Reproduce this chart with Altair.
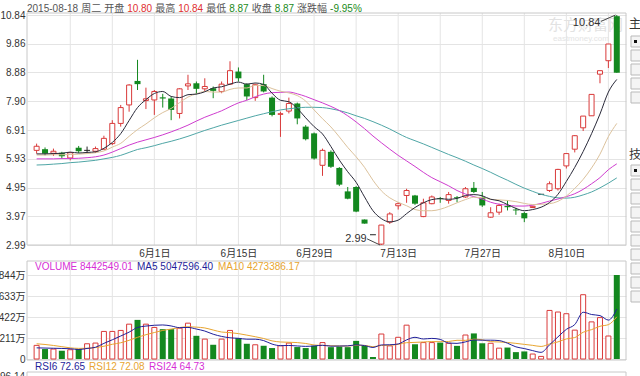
import altair as alt
import pandas as pd

FONT = "Liberation Sans, Noto Sans CJK SC, sans-serif"
RED = "#d93a3a"
GREEN = "#13881f"
FLAT = "#222222"
GRID = "#e4e4e4"
FRAME = "#c8c8c8"
LABEL = "#333333"
MA5C, MA10C, MA20C, MA30C = "#2a2a3a", "#dcc29c", "#cf3ccf", "#4fa6a6"
VMA5C, VMA10C, VOLC = "#1f1f9a", "#e8a530", "#d62fd6"

# ---------------- data ----------------
dates = [
    "2015-05-12", "2015-05-13", "2015-05-14", "2015-05-15",
    "2015-05-18", "2015-05-19", "2015-05-20", "2015-05-21", "2015-05-22",
    "2015-05-25", "2015-05-26", "2015-05-27", "2015-05-28", "2015-05-29",
    "2015-06-01", "2015-06-02", "2015-06-03", "2015-06-04", "2015-06-05",
    "2015-06-08", "2015-06-09", "2015-06-10", "2015-06-11", "2015-06-12",
    "2015-06-15", "2015-06-16", "2015-06-17", "2015-06-18", "2015-06-19",
    "2015-06-23", "2015-06-24", "2015-06-25", "2015-06-26",
    "2015-06-29", "2015-06-30", "2015-07-01", "2015-07-02", "2015-07-03",
    "2015-07-06", "2015-07-07", "2015-07-08", "2015-07-09", "2015-07-10",
    "2015-07-13", "2015-07-14", "2015-07-15", "2015-07-16", "2015-07-17",
    "2015-07-20", "2015-07-21", "2015-07-22", "2015-07-23", "2015-07-24",
    "2015-07-27", "2015-07-28", "2015-07-29", "2015-07-30", "2015-07-31",
    "2015-08-03", "2015-08-04", "2015-08-05", "2015-08-06", "2015-08-07",
    "2015-08-10", "2015-08-11", "2015-08-12", "2015-08-13", "2015-08-14",
    "2015-08-17", "2015-08-18",
]
opens = [6.22, 6.26, 6.12, 6.14, 5.96, 6.31, 6.22, 6.19, 6.26, 6.45,
         7.14, 7.77, 8.59, 7.92, 7.94, 8.03, 7.99, 7.48, 8.42, 8.51,
         8.32, 8.34, 8.23, 8.48, 8.91, 8.48, 8.02, 8.48, 8.02, 7.45,
         7.56, 7.82, 7.03, 6.80, 5.71, 6.17, 5.62, 4.82, 4.97, 3.86,
         3.34, 3.02, 3.77, 4.33, 4.68, 4.68, 3.96, 4.40, 4.59, 4.51,
         4.62, 4.63, 4.94, 4.63, 3.94, 4.11, 4.32, 4.20, 4.08, 4.27,
         4.72, 4.85, 4.91, 5.69, 6.26, 6.99, 7.40, 8.82, 9.28, 10.80]
highs = [6.45, 6.32, 6.28, 6.17, 6.16, 6.37, 6.35, 6.35, 6.72, 7.25,
         7.77, 8.48, 9.31, 8.36, 8.28, 8.15, 8.06, 8.34, 8.80, 8.57,
         8.68, 8.40, 8.57, 9.26, 9.05, 8.51, 8.50, 8.80, 8.06, 7.54,
         8.02, 7.85, 7.08, 6.83, 6.28, 6.22, 5.65, 4.97, 5.00, 3.86,
         3.34, 3.68, 4.11, 4.45, 4.91, 4.70, 4.57, 4.68, 4.63, 4.80,
         4.66, 4.97, 5.14, 4.80, 4.28, 4.40, 4.51, 4.26, 4.12, 4.33,
         4.72, 5.16, 5.59, 6.13, 6.74, 7.39, 8.13, 8.94, 9.85, 10.84]
lows = [6.11, 6.05, 6.03, 5.93, 5.88, 6.13, 6.12, 6.13, 6.24, 6.40,
        7.03, 7.54, 8.28, 7.63, 7.43, 7.68, 7.25, 7.31, 8.28, 8.13,
        8.23, 8.00, 8.17, 8.46, 8.57, 7.94, 7.91, 8.20, 7.38, 6.68,
        7.48, 7.11, 6.56, 5.90, 5.35, 5.62, 5.00, 4.55, 4.11, 3.72,
        3.34, 2.99, 3.71, 4.20, 4.43, 4.36, 3.94, 4.38, 4.43, 4.40,
        4.45, 4.60, 4.76, 4.29, 3.92, 4.02, 4.17, 4.02, 3.77, 4.25,
        4.72, 4.80, 4.85, 5.60, 6.15, 6.88, 7.40, 8.51, 9.03, 8.87]
closes = [6.36, 6.11, 6.19, 6.02, 6.14, 6.19, 6.22, 6.28, 6.63, 7.14,
          7.68, 8.45, 8.48, 7.98, 8.23, 7.99, 7.60, 8.32, 8.49, 8.32,
          8.40, 8.25, 8.48, 8.94, 8.68, 8.06, 8.46, 8.23, 7.43, 7.47,
          7.82, 7.31, 6.60, 5.94, 6.22, 5.66, 5.05, 4.57, 4.13, 3.72,
          3.34, 3.67, 4.05, 4.40, 4.85, 4.40, 4.43, 4.63, 4.56, 4.71,
          4.59, 4.91, 4.80, 4.34, 4.09, 4.34, 4.28, 4.17, 3.90, 4.31,
          4.72, 5.08, 5.57, 6.11, 6.72, 7.39, 8.13, 8.94, 9.85, 8.87]
# volume in 万 shares
volumes = [137, 100, 100, 83, 93, 100, 153, 160, 277, 277,
           287, 350, 393, 350, 317, 300, 300, 310, 360, 233,
           200, 143, 200, 287, 210, 153, 143, 133, 110, 133,
           160, 120, 110, 133, 165, 119, 125, 119, 182, 132,
           20, 251, 132, 218, 340, 148, 165, 165, 165, 158,
           132, 241, 257, 158, 158, 109, 115, 69, 76, 50,
           26, 488, 472, 455, 290, 646, 373, 416, 231, 844]
ma5 = [6.10, 6.10, 6.11, 6.12, 6.16, 6.13, 6.15, 6.17, 6.29, 6.49,
       6.79, 7.24, 7.68, 7.95, 8.16, 8.23, 8.06, 8.02, 8.12, 8.14,
       8.22, 8.35, 8.39, 8.48, 8.55, 8.48, 8.52, 8.47, 8.17, 7.93,
       7.88, 7.65, 7.33, 7.03, 6.78, 6.35, 5.89, 5.49, 5.13, 4.63,
       4.16, 3.89, 3.78, 3.84, 4.06, 4.27, 4.43, 4.54, 4.57, 4.55,
       4.58, 4.68, 4.71, 4.67, 4.55, 4.50, 4.37, 4.24, 4.16, 4.20,
       4.28, 4.44, 4.72, 5.16, 5.64, 6.18, 6.79, 7.46, 8.21, 8.64]
ma10 = [6.06, 6.06, 6.07, 6.07, 6.08, 6.09, 6.11, 6.14, 6.20, 6.33,
        6.46, 6.70, 6.93, 7.12, 7.33, 7.51, 7.65, 7.85, 8.04, 8.15,
        8.23, 8.21, 8.21, 8.30, 8.35, 8.35, 8.44, 8.43, 8.33, 8.24,
        8.18, 8.09, 7.90, 7.60, 7.30, 7.02, 6.68, 6.32, 6.00, 5.64,
        5.20, 4.84, 4.60, 4.45, 4.33, 4.20, 4.16, 4.16, 4.21, 4.31,
        4.43, 4.54, 4.62, 4.61, 4.55, 4.53, 4.51, 4.47, 4.41, 4.37,
        4.38, 4.40, 4.48, 4.66, 4.92, 5.23, 5.62, 6.09, 6.69, 7.14]
ma20 = [5.93, 5.93, 5.93, 5.94, 5.94, 5.95, 5.97, 6.00, 6.06, 6.16,
        6.28, 6.40, 6.50, 6.58, 6.66, 6.75, 6.85, 6.96, 7.08, 7.22,
        7.35, 7.46, 7.57, 7.71, 7.84, 7.93, 8.05, 8.14, 8.19, 8.20,
        8.21, 8.15, 8.06, 7.95, 7.84, 7.72, 7.58, 7.40, 7.19, 6.96,
        6.71, 6.48, 6.26, 6.05, 5.86, 5.67, 5.47, 5.29, 5.15, 5.01,
        4.85, 4.73, 4.64, 4.56, 4.45, 4.38, 4.35, 4.32, 4.32, 4.35,
        4.41, 4.49, 4.56, 4.64, 4.74, 4.89, 5.08, 5.29, 5.56, 5.76]
ma30 = [5.72, 5.73, 5.75, 5.77, 5.80, 5.82, 5.85, 5.88, 5.93, 5.98,
        6.05, 6.15, 6.25, 6.31, 6.38, 6.46, 6.53, 6.61, 6.70, 6.80,
        6.90, 6.99, 7.08, 7.16, 7.24, 7.32, 7.40, 7.47, 7.54, 7.60,
        7.64, 7.67, 7.69, 7.69, 7.68, 7.64, 7.58, 7.50, 7.40, 7.31,
        7.20, 7.08, 6.95, 6.80, 6.66, 6.55, 6.44, 6.32, 6.20, 6.08,
        5.97, 5.85, 5.72, 5.60, 5.47, 5.33, 5.20, 5.06, 4.93, 4.82,
        4.72, 4.65, 4.60, 4.59, 4.62, 4.70, 4.80, 4.94, 5.10, 5.28]
vma5 = [112, 110, 108, 106, 103, 95, 106, 118, 157, 193,
        231, 270, 317, 331, 339, 342, 332, 315, 317, 301,
        281, 249, 227, 213, 208, 199, 199, 185, 150, 134,
        136, 131, 127, 131, 138, 129, 130, 132, 142, 135,
        116, 141, 143, 151, 192, 218, 201, 207, 197, 160,
        157, 172, 191, 189, 189, 185, 159, 122, 105, 84,
        67, 142, 222, 298, 346, 470, 447, 436, 391, 502]
vma10 = [153, 146, 136, 124, 112, 107, 108, 115, 128, 148,
         163, 188, 218, 244, 266, 287, 301, 316, 324, 320,
         312, 291, 271, 265, 255, 240, 224, 206, 182, 171,
         168, 165, 156, 141, 136, 133, 131, 130, 137, 137,
         123, 136, 138, 147, 164, 167, 171, 175, 174, 176,
         188, 187, 199, 193, 175, 171, 166, 157, 147, 137,
         126, 151, 172, 202, 215, 269, 295, 329, 345, 424]

tick_dates = ["2015-06-01", "2015-06-15", "2015-06-29", "2015-07-13", "2015-07-27", "2015-08-10"]
tick_labels = ["6月1日", "6月15日", "6月29日", "7月13日", "7月27日", "8月10日"]
price_ticks = [2.99, 3.97, 4.95, 5.93, 6.91, 7.90, 8.88, 9.86, 10.84]
vol_ticks = [0, 211, 422, 633, 844]

header = [("2015-08-18", "g"), ("周二", "g"), ("开盘", "g"), ("10.80", "r"),
          ("最高", "g"), ("10.84", "r"), ("最低", "g"), ("8.87", "d"),
          ("收盘", "g"), ("8.87", "d"), ("涨跌幅", "g"), ("-9.95%", "d")]
vol_legend = [("VOLUME 8442549.01", VOLC), ("MA5 5047596.40", VMA5C), ("MA10 4273386.17", VMA10C)]
rsi_legend = [("RSI6 72.65", VMA5C), ("RSI12 72.08", VMA10C), ("RSI24 64.73", VOLC)]
low_note = ["2.99"]
high_note = ["10.84"]

# ---------------- layout ----------------
W, H = 640, 376
PL, PR = 27, 626
MAIN_TOP, MAIN_BOT, P_TOP = 13, 245, 15
VOL_TOP, VOL_BOT, V_TOP = 261, 359, 275
FS = 10

n = len(dates)
df = pd.DataFrame({"i": list(range(n)), "date": dates, "open": opens, "high": highs,
                   "low": lows, "close": closes, "vol": volumes, "ma5": ma5, "ma10": ma10,
                   "ma20": ma20, "ma30": ma30, "vma5": vma5, "vma10": vma10})


def cdir(k):
    if closes[k] > opens[k]:
        return "up"
    if closes[k] < opens[k]:
        return "down"
    return "flat"


df["dir"] = [cdir(k) for k in range(n)]
df["vdir"] = [d if d != "flat" else ("up" if k == 0 or closes[k] >= closes[k - 1] else "down")
              for k, d in enumerate(df["dir"])]
df["xl"] = df["i"] - 0.35
df["xr"] = df["i"] + 0.35

dt = pd.to_datetime(pd.Series(dates))
wk = dt.dt.isocalendar().week.tolist()
week_idx = [k for k in range(1, n) if wk[k] != wk[k - 1]]
tick_idx = [dates.index(d) for d in tick_dates]

xs = alt.Scale(domain=[-0.55, n - 0.5], range=[PL, PR], nice=False, zero=False)
ps = alt.Scale(domain=[price_ticks[0], price_ticks[-1]], range=[MAIN_BOT, P_TOP], nice=False, zero=False)
vs = alt.Scale(domain=[vol_ticks[0], vol_ticks[-1]], range=[VOL_BOT, V_TOP], nice=False, zero=False)

label_expr = " : ".join(f"datum.value == {k} ? '{t}'" for k, t in zip(tick_idx, tick_labels)) + " : ''"
xaxis = alt.Axis(orient="bottom", offset=MAIN_BOT - H, values=tick_idx, labelExpr=label_expr,
                 grid=False, ticks=False, domain=False, title=None, labelFontSize=FS,
                 labelColor=LABEL, labelFont=FONT, labelPadding=3, labelFlush=False)
paxis = alt.Axis(orient="left", offset=-PL, values=price_ticks, format=".2f", grid=True,
                 gridColor=GRID, ticks=False, domain=False, title=None, labelFontSize=FS,
                 labelColor=LABEL, labelFont=FONT, labelPadding=2)
vaxis = alt.Axis(orient="left", offset=-PL, values=vol_ticks,
                 labelExpr="datum.value == 0 ? '0' : datum.value + '万'", grid=True,
                 gridColor=GRID, ticks=False, domain=False, title=None, labelFontSize=FS,
                 labelColor=LABEL, labelFont=FONT, labelPadding=2)

X = alt.X("i:Q", scale=xs, axis=xaxis)
base = alt.Chart(df)

# pixel-space decorations
frames = pd.DataFrame({
    "x": [PL, PL, PL], "x2": [PR, PR, PR],
    "y": [MAIN_TOP, VOL_TOP, 372], "y2": [MAIN_BOT, VOL_BOT + 1, 400]})
frame_layer = alt.Chart(frames).mark_rect(fillOpacity=0, stroke=FRAME, strokeWidth=1).encode(
    x=alt.X("x:Q", scale=None, axis=None), x2="x2:Q",
    y=alt.Y("y:Q", scale=None, axis=None), y2="y2:Q")

wk_df = pd.DataFrame({"i": week_idx})
vgrid_main = alt.Chart(wk_df).mark_rule(color=GRID).encode(
    x=X, y=alt.value(MAIN_TOP), y2=alt.value(MAIN_BOT))
vgrid_vol = alt.Chart(wk_df).mark_rule(color=GRID).encode(
    x=X, y=alt.value(VOL_TOP), y2=alt.value(VOL_BOT))

grid_price = base.mark_rule(opacity=0).encode(
    x=X, y=alt.Y("low:Q", scale=ps, axis=paxis))
grid_vol = base.mark_rule(opacity=0).encode(
    x=X, y=alt.Y("vol:Q", scale=vs, axis=vaxis))

colors = {"up": RED, "down": GREEN, "flat": FLAT}
wicks = [base.transform_filter(f"datum.dir == '{d}'").mark_rule(color=c, strokeWidth=1).encode(
    x=X, y=alt.Y("low:Q", scale=ps, axis=None), y2="high:Q") for d, c in colors.items()]
body_up = base.transform_filter("datum.dir == 'up'").mark_bar(
    size=5, fill="white", stroke=RED, strokeWidth=1).encode(
    x=X, y=alt.Y("open:Q", scale=ps, axis=None), y2="close:Q")
body_down = base.transform_filter("datum.dir == 'down'").mark_bar(size=6, color=GREEN).encode(
    x=X, y=alt.Y("open:Q", scale=ps, axis=None), y2="close:Q")
body_flat = base.transform_filter("datum.dir == 'flat'").mark_rule(color=FLAT, strokeWidth=1).encode(
    x=alt.X("xl:Q", scale=xs, axis=xaxis), x2="xr:Q", y=alt.Y("close:Q", scale=ps, axis=None))

ma_layers = [base.mark_line(color=c, strokeWidth=1, interpolate="monotone").encode(
    x=X, y=alt.Y(f"{f}:Q", scale=ps, axis=None))
    for f, c in [("ma30", MA30C), ("ma20", MA20C), ("ma10", MA10C), ("ma5", MA5C)]]

vol_up = base.transform_filter("datum.vdir == 'up'").mark_bar(
    size=5, fill="white", stroke=RED, strokeWidth=1).encode(
    x=X, y=alt.Y("vol:Q", scale=vs, axis=None))
vol_down = base.transform_filter("datum.vdir == 'down'").mark_bar(size=6, color=GREEN).encode(
    x=X, y=alt.Y("vol:Q", scale=vs, axis=None))
vma_layers = [base.mark_line(color=c, strokeWidth=1, interpolate="monotone").encode(
    x=X, y=alt.Y(f"{f}:Q", scale=vs, axis=None))
    for f, c in [("vma10", VMA10C), ("vma5", VMA5C)]]

# extreme value notes (anchored to the extreme candles)
imin = lows.index(min(lows))
imax = highs.index(max(highs))
notes = pd.DataFrame({"i": [imin - 1.75, imax - 1.95], "p": [min(lows) + 0.21, max(highs) - 0.27],
                      "t": [low_note[0], high_note[0]]})
leads = pd.DataFrame({"i": [imin - 1.7, imax - 1.9], "i2": [imin - 0.15, imax - 0.15],
                      "p": [min(lows) + 0.21, max(highs) - 0.22], "p2": [min(lows), max(highs)]})
note_text = alt.Chart(notes).mark_text(align="right", baseline="middle", fontSize=FS + 1,
                                       color=LABEL, font=FONT).encode(
    x=alt.X("i:Q", scale=xs, axis=xaxis), y=alt.Y("p:Q", scale=ps, axis=None), text="t:N")
note_lead = alt.Chart(leads).mark_rule(color="#444", strokeWidth=1).encode(
    x=alt.X("i:Q", scale=xs, axis=xaxis), x2="i2:Q", y=alt.Y("p:Q", scale=ps, axis=None), y2="p2:Q")


# texts laid out in pixel space
def tw(s, f):
    w = 0.0
    for ch in s:
        if ord(ch) > 0x2E80:
            w += 1.0
        elif ch.isdigit():
            w += 0.556
        elif ch in ". ":
            w += 0.278
        elif ch == "-":
            w += 0.333
        elif ch == "%":
            w += 0.889
        else:
            w += 0.62
    return w * f


rows = []
hx, HFS = PL, 10
hcol = {"g": "#555555", "r": "#e03030", "d": "#1a8a1a"}
for s, c in header:
    rows.append({"px": hx, "py": 9, "text": s, "col": hcol[c], "fs": HFS})
    hx += tw(s, HFS) + 0.3 * HFS
for (s, c), x0 in zip(vol_legend, [35, 137, 218]):
    rows.append({"px": x0, "py": 267, "text": s, "col": c, "fs": FS})
for (s, c), x0 in zip(rsi_legend, [35, 89, 149]):
    rows.append({"px": x0, "py": 367, "text": s, "col": c, "fs": FS})
rows.append({"px": PL - 2 - tw("96.14", FS), "py": 377, "text": "96.14", "col": LABEL, "fs": FS})
rows.append({"px": 629, "py": 24, "text": "主", "col": LABEL, "fs": 12})
rows.append({"px": 629, "py": 155, "text": "技", "col": LABEL, "fs": 12})
rows.append({"px": 548, "py": 25, "text": "东方财富网", "col": "#e2e2e2", "fs": 15})
rows.append({"px": 553, "py": 39, "text": "eastmoney.com", "col": "#e4e4e4", "fs": 8})
txt = pd.DataFrame(rows)
text_layer = alt.Chart(txt).mark_text(align="left", baseline="middle", font=FONT).encode(
    x=alt.X("px:Q", scale=None, axis=None), y=alt.Y("py:Q", scale=None, axis=None),
    text="text:N", color=alt.Color("col:N", scale=None), size=alt.Size("fs:Q", scale=None))

box_y = [41, 55, 69, 83, 97, 170, 184, 198, 212, 226, 240, 254, 268, 282, 296]
boxes = pd.DataFrame({"x": [631] * len(box_y), "x2": [645] * len(box_y),
                      "y": [b - 5 for b in box_y], "y2": [b + 6 for b in box_y]})
box_layer = alt.Chart(boxes).mark_rect(fill="#f4f4f4", stroke="#b9b9b9", strokeWidth=1).encode(
    x=alt.X("x:Q", scale=None, axis=None), x2="x2:Q",
    y=alt.Y("y:Q", scale=None, axis=None), y2="y2:Q")
marks = pd.DataFrame({"x": [634, 634], "x2": [637, 637], "y": [40, 169], "y2": [43, 172]})
mark_layer = alt.Chart(marks).mark_rect(fill="#111").encode(
    x=alt.X("x:Q", scale=None, axis=None), x2="x2:Q",
    y=alt.Y("y:Q", scale=None, axis=None), y2="y2:Q")

chart = alt.layer(
    vgrid_main, vgrid_vol, grid_price, grid_vol, frame_layer, text_layer,
    *wicks, body_up, body_down, body_flat, *ma_layers,
    vol_up, vol_down, *vma_layers,
    note_lead, note_text, box_layer, mark_layer,
).resolve_scale(y="independent").properties(
    width=W, height=H, padding=0, autosize=alt.AutoSizeParams(type="none"),
    background="white",
).configure_view(stroke=None)

chart.save("out.html", embed_options={"renderer": "svg", "actions": False})
